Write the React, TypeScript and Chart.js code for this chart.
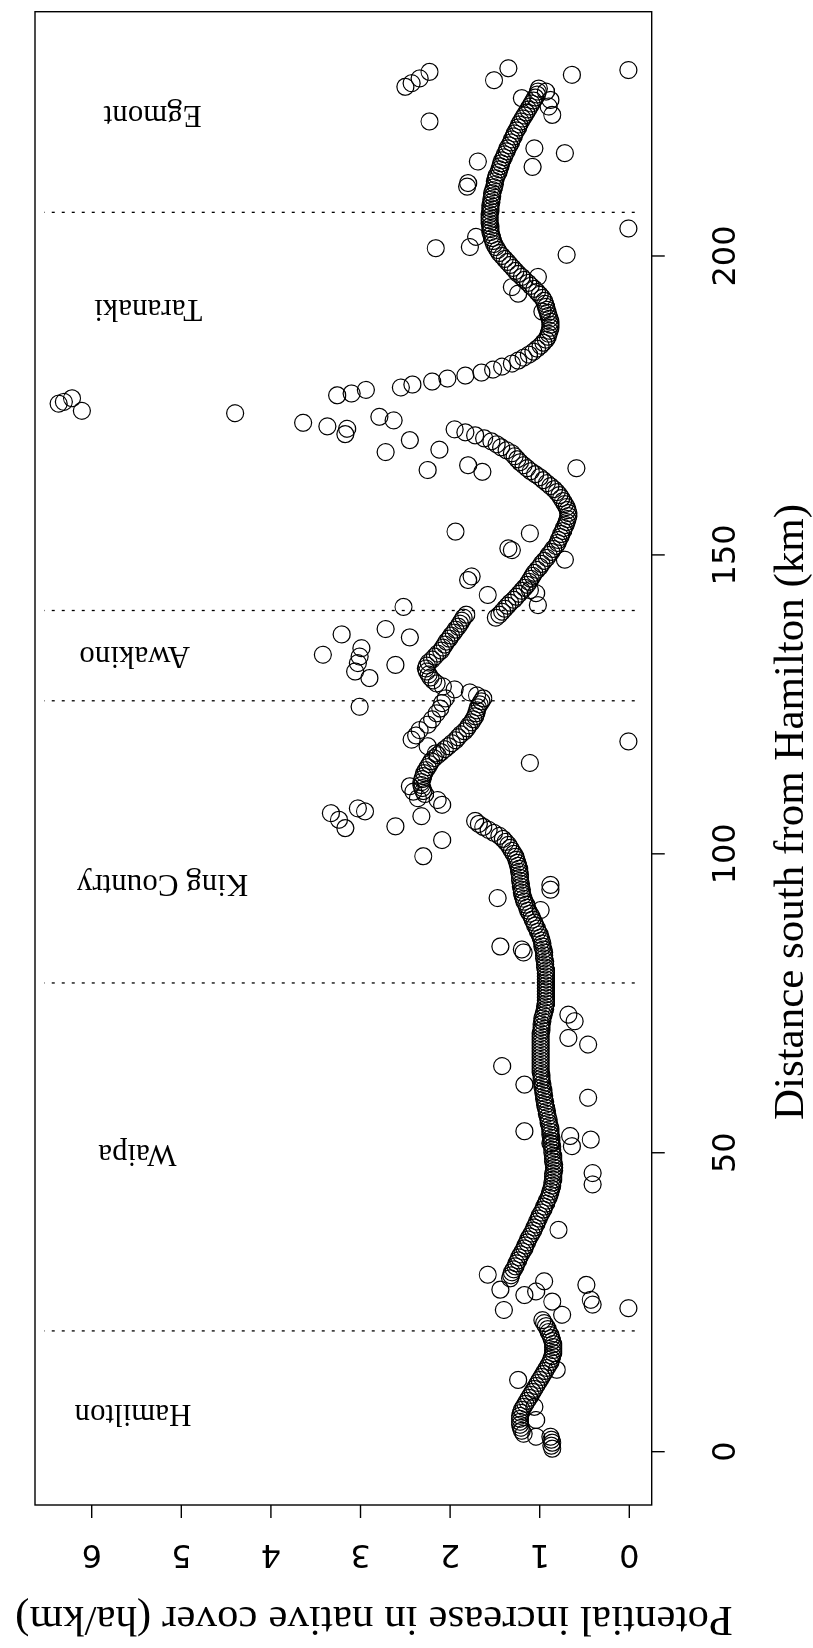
import React, { useEffect, useRef } from "react";
import { Chart, registerables } from "chart.js";

Chart.register(...registerables);

// ---- Axis ticks / ranges ----
const distanceTicks = [0, 50, 100, 150, 200];
const valueTicks = [0, 1, 2, 3, 4, 5, 6];
const distanceMin = -8.92;
const distanceMax = 240.86;
const valueMin = -0.25;
const valueMax = 6.633;

// ---- Region boundaries (km) and labels ----
const boundaryKm = [20.2, 78.4, 125.6, 140.7, 207.3];
const regionNames = ["Hamilton", "Waipa", "King Country", "Awakino", "Taranaki", "Egmont"];
const regionLabelKm = [6.4, 50.0, 95.1, 133.3, 191.2, 223.8];
const regionLabelValue = [5.54, 5.49, 5.21, 5.52, 5.37, 5.32];

// ---- Dense smoothed trace, 0.5 km apart within each run ----
const stepKm = 0.5;
const hamiltonStartKm = 0.5;
const hamiltonCurve = [0.86, 0.87, 0.86, 0.87, 0.88, 1.18, 1.2, 1.21, 1.22, 1.22, 1.22, 1.22, 1.21, 1.2, 1.18, 1.16, 1.14, 1.12, 1.1, 1.08, 1.06, 1.04, 1.02, 1.0, 0.98, 0.96, 0.94, 0.92, 0.9, 0.88, 0.87, 0.86, 0.85, 0.85, 0.85, 0.85, 0.86, 0.87, 0.88, 0.9, 0.91, 0.93, 0.95, 0.97];
const waipaStartKm = 29;
const waipaCurve = [1.33, 1.32, 1.31, 1.29, 1.27, 1.26, 1.24, 1.23, 1.21, 1.19, 1.17, 1.16, 1.14, 1.13, 1.11, 1.09, 1.07, 1.06, 1.04, 1.03, 1.01, 1.0, 0.98, 0.96, 0.95, 0.93, 0.92, 0.9, 0.89, 0.88, 0.87, 0.86, 0.86, 0.85, 0.85, 0.85, 0.84, 0.84, 0.84, 0.85, 0.85, 0.85, 0.86, 0.86, 0.86, 0.87, 0.87, 0.87, 0.88, 0.88, 0.88, 0.89, 0.9, 0.9, 0.91, 0.92, 0.92, 0.93, 0.94, 0.94, 0.95, 0.95, 0.96, 0.96, 0.97, 0.97, 0.98, 0.98, 0.98, 0.99, 0.99, 0.99, 0.99, 0.99, 0.99, 0.99, 0.99, 0.99, 0.99, 0.99, 0.99, 0.99, 0.99, 0.98, 0.98, 0.98, 0.97, 0.97, 0.96, 0.95, 0.94, 0.94, 0.93, 0.93, 0.93, 0.93, 0.93, 0.93, 0.93, 0.93];
const kingCountryStartKm = 79;
const kingCountryCurve = [0.93, 0.93, 0.93, 0.93, 0.94, 0.94, 0.94, 0.95, 0.95, 0.95, 0.96, 0.97, 0.97, 0.98, 0.99, 1.0, 1.02, 1.03, 1.05, 1.06, 1.08, 1.09, 1.11, 1.13, 1.14, 1.15, 1.17, 1.18, 1.19, 1.2, 1.2, 1.21, 1.21, 1.22, 1.22, 1.22, 1.23, 1.23, 1.24, 1.25, 1.26, 1.27, 1.29, 1.31, 1.33, 1.35, 1.38, 1.41, 1.45, 1.51, 1.57, 1.63, 1.68, 1.72];
const kingCountryUpperStartKm = 110;
const kingCountryUpperCurve = [2.28, 2.3, 2.31, 2.32, 2.32, 2.31, 2.3, 2.29, 2.27, 2.25, 2.23, 2.21, 2.18, 2.14, 2.1, 2.06, 2.02, 1.98, 1.94, 1.91, 1.88, 1.84, 1.81, 1.79, 1.76, 1.74, 1.72, 1.71, 1.7, 1.69, 1.67, 1.65, 1.63];
const awakinoStartKm = 126.5;
const awakinoCurve = [1.7, 1.78, 1.95, 2.08, 2.15, 2.19, 2.22, 2.24, 2.26, 2.27, 2.26, 2.24, 2.2, 2.17, 2.14, 2.1, 2.08, 2.06, 2.04, 2.01, 1.99, 1.96, 1.94, 1.91, 1.89, 1.87, 1.85, 1.82];
const taranakiStartKm = 139.5;
const taranakiCurve = [1.49, 1.45, 1.42, 1.39, 1.36, 1.33, 1.29, 1.26, 1.23, 1.2, 1.17, 1.14, 1.12, 1.1, 1.08, 1.06, 1.03, 1.0, 0.98, 0.95, 0.92, 0.9, 0.87, 0.85, 0.82, 0.8, 0.79, 0.77, 0.76, 0.74, 0.73, 0.71, 0.7, 0.69, 0.68, 0.68, 0.69, 0.7, 0.72, 0.74, 0.76, 0.78, 0.81, 0.84, 0.88, 0.92, 0.96, 1.0, 1.05, 1.1, 1.14, 1.18, 1.22, 1.25, 1.28, 1.31, 1.37, 1.43, 1.48, 1.54, 1.62, 1.72, 1.83, 1.95];
const taranakiSouthStartKm = 178;
const taranakiSouthCurve = [2.55, 2.42, 2.2, 2.03, 1.83, 1.65, 1.52, 1.42, 1.31, 1.24, 1.18, 1.12, 1.07, 1.03, 0.99, 0.96, 0.93, 0.91, 0.9, 0.89, 0.88, 0.88, 0.88, 0.89, 0.9, 0.91, 0.92, 0.93, 0.94, 0.95, 0.97, 1.0, 1.03, 1.06, 1.1, 1.13, 1.17, 1.2, 1.24, 1.27, 1.3, 1.33, 1.36, 1.39, 1.42, 1.45, 1.47, 1.49, 1.51, 1.52, 1.53, 1.54, 1.55, 1.55, 1.55, 1.56, 1.56, 1.56, 1.56];
const egmontStartKm = 207.5;
const egmontCurve = [1.55, 1.55, 1.55, 1.54, 1.54, 1.53, 1.53, 1.52, 1.51, 1.5, 1.5, 1.49, 1.48, 1.46, 1.45, 1.44, 1.43, 1.42, 1.4, 1.39, 1.37, 1.36, 1.34, 1.32, 1.31, 1.29, 1.28, 1.26, 1.24, 1.23, 1.21, 1.19, 1.17, 1.15, 1.13, 1.11, 1.09, 1.07, 1.05, 1.03, 1.02, 1.01];

// ---- Scattered individual points ----
const outlierKm = [
  2.5, 5.3, 7.5, 12.0, 13.7,
  22.9, 23.7, 24.0, 24.6, 25.1, 25.4, 26.2, 26.8, 27.1, 27.9, 28.5, 29.6,
  37.1, 44.7, 46.6, 51.1, 51.6, 52.2, 52.8, 53.6, 59.2, 61.4, 64.5, 68.1, 69.2, 72.0, 73.1,
  83.5, 84.0, 84.5, 90.6, 92.6, 94.0, 94.8, 99.6, 102.3, 104.3, 104.6, 105.7, 106.3, 106.8, 107.1, 107.6, 108.2, 109.0, 109.3, 110.4, 111.3,
  115.2, 118.8, 116.8, 118.0, 119.1, 119.8, 120.7, 121.6, 122.5, 123.5, 124.3, 125.2, 126.0, 124.6,
  129.4, 130.5, 131.9, 133.0, 134.4, 131.6, 133.3, 136.7, 136.2, 137.6, 141.3, 141.6, 143.3, 143.6, 144.1, 145.8, 146.4, 149.2, 150.8, 151.1, 153.6, 153.9,
  163.9, 164.2, 164.5, 165.0, 167.2, 167.6, 169.2, 170.2, 171.1, 171.5, 172.1, 172.5, 173.1, 173.7, 174.1, 175.3, 175.6, 176.2, 176.7, 177.0, 177.6,
  190.7, 193.7, 194.8, 196.5,
  200.2, 201.3, 201.5, 203.2, 204.6, 211.6, 212.2, 214.9, 215.8, 217.2, 218.0, 222.5, 223.6, 225.0, 226.1, 226.4, 227.5,
  228.3, 228.9, 229.4, 229.7, 230.3, 230.8, 231.1, 231.4,
];
const outlierValue = [
  1.04, 1.04, 1.06, 1.24, 0.81,
  0.75, 1.4, 0.01, 0.41, 0.86, 0.43, 1.17, 1.04, 1.44, 0.48, 0.95, 1.58,
  0.79, 0.41, 0.41, 0.64, 0.88, 0.43, 0.66, 1.17, 0.46, 1.17, 1.42, 0.46, 0.68, 0.61, 0.68,
  1.18, 1.2, 1.44, 0.99, 1.47, 0.88, 0.88, 2.3, 2.09, 3.17, 2.61, 3.24, 2.32, 3.33, 2.95, 3.03, 2.09, 2.14, 2.36, 2.41, 2.45,
  1.11, 0.01, 2.16, 2.25, 2.43, 2.38, 2.34, 2.25, 2.2, 2.15, 2.11, 2.09, 2.05, 3.01,
  2.9, 3.06, 3.03, 3.01, 2.99, 2.61, 3.42, 3.21, 2.45, 2.72, 2.52, 1.02, 1.58, 1.04, 1.11, 1.8, 1.76, 0.72, 1.31, 1.35, 1.11, 1.94,
  1.64, 2.25, 0.59, 1.8, 2.72, 2.12, 2.45, 3.17, 3.15, 3.37, 3.64, 2.63, 2.79, 4.4, 6.11, 6.37, 6.31, 6.22, 3.26, 3.1, 2.94,
  0.97, 1.24, 1.31, 1.02,
  0.7, 2.16, 1.78, 1.71, 0.01, 1.81, 1.8, 1.08, 1.69, 0.72, 1.06, 2.23, 0.86, 0.9, 0.88, 1.2, 0.93,
  2.5, 2.43, 1.51, 2.34, 0.64, 2.23, 0.01, 1.35,
];

// ---- Text ----
const distanceTitle = "Distance south from Hamilton (km)";
const valueTitle = "Potential increase in native cover (ha/km)";

const runs: [number, number[]][] = [
  [hamiltonStartKm, hamiltonCurve],
  [waipaStartKm, waipaCurve],
  [kingCountryStartKm, kingCountryCurve],
  [kingCountryUpperStartKm, kingCountryUpperCurve],
  [awakinoStartKm, awakinoCurve],
  [taranakiStartKm, taranakiCurve],
  [taranakiSouthStartKm, taranakiSouthCurve],
  [egmontStartKm, egmontCurve],
];

const W = 1648;
const H = 813;

const decorPlugin = {
  id: "decor",
  beforeDatasetsDraw(chart: any) {
    const { ctx, scales } = chart;
    const x = scales.x;
    const y = scales.y;
    ctx.save();
    ctx.strokeStyle = "#000";
    ctx.lineWidth = 1.3;
    ctx.setLineDash([3, 7]);
    boundaryKm.forEach((b) => {
      const px = x.getPixelForValue(b);
      ctx.beginPath();
      ctx.moveTo(px, y.getPixelForValue(-0.06));
      ctx.lineTo(px, y.getPixelForValue(6.53));
      ctx.stroke();
    });
    ctx.restore();
  },
  afterDraw(chart: any) {
    const { ctx, scales, chartArea } = chart;
    const x = scales.x;
    const y = scales.y;
    const { left, right, top, bottom } = chartArea;
    ctx.save();
    ctx.strokeStyle = "#000";
    ctx.fillStyle = "#000";
    ctx.lineWidth = 1.4;
    ctx.setLineDash([]);
    ctx.strokeRect(left, top, right - left, bottom - top);

    // distance axis (bottom in unrotated frame)
    ctx.font = '32px "DejaVu Sans"';
    ctx.textAlign = "center";
    ctx.textBaseline = "middle";
    distanceTicks.forEach((t) => {
      const px = x.getPixelForValue(t);
      ctx.beginPath();
      ctx.moveTo(px, bottom);
      ctx.lineTo(px, bottom + 13);
      ctx.stroke();
      ctx.fillText(String(t), px, bottom + 75);
    });

    // value axis (left in unrotated frame), labels parallel to axis
    valueTicks.forEach((t) => {
      const py = y.getPixelForValue(t);
      ctx.beginPath();
      ctx.moveTo(left, py);
      ctx.lineTo(left - 13, py);
      ctx.stroke();
      ctx.save();
      ctx.translate(left - 48, py);
      ctx.rotate(-Math.PI / 2);
      ctx.fillText(String(t), 0, 0);
      ctx.restore();
    });

    // axis titles
    ctx.font = '43px "Liberation Serif"';
    ctx.fillText(distanceTitle, 836, bottom + 140);
    ctx.save();
    ctx.translate(left - 113, 374);
    ctx.rotate(-Math.PI / 2);
    ctx.fillText(valueTitle, 0, 0);
    ctx.restore();

    // region labels
    ctx.font = '31px "Liberation Serif"';
    regionNames.forEach((name, i) => {
      ctx.save();
      ctx.translate(x.getPixelForValue(regionLabelKm[i]), y.getPixelForValue(regionLabelValue[i]));
      ctx.rotate(-Math.PI / 2);
      ctx.fillText(name, 0, 0);
      ctx.restore();
    });
    ctx.restore();
  },
};

export default function App() {
  const canvasRef = useRef<HTMLCanvasElement | null>(null);

  useEffect(() => {
    const canvas = canvasRef.current;
    if (!canvas) return;
    const curvePoints: { x: number; y: number }[] = [];
    runs.forEach(([start, vals]) => {
      vals.forEach((v, i) => curvePoints.push({ x: start + i * stepKm, y: v }));
    });
    const outlierPoints = outlierKm.map((k, i) => ({ x: k, y: outlierValue[i] }));

    const pointStyle = {
      pointRadius: 8.5,
      pointBorderWidth: 1.2,
      pointBorderColor: "#000",
      pointBackgroundColor: "rgba(0,0,0,0)",
      pointStyle: "circle" as const,
      showLine: false,
    };

    const chart = new Chart(canvas, {
      type: "scatter",
      data: {
        datasets: [
          { label: "trace", data: curvePoints, ...pointStyle },
          { label: "points", data: outlierPoints, ...pointStyle },
        ],
      },
      options: {
        animation: false,
        responsive: false,
        devicePixelRatio: 1,
        layout: { padding: { left: 143, right: 11.7, top: 35, bottom: 161.3 } },
        scales: {
          x: { type: "linear", min: distanceMin, max: distanceMax, display: false },
          y: { type: "linear", min: valueMin, max: valueMax, display: false },
        },
        plugins: {
          legend: { display: false },
          tooltip: { enabled: false },
        },
      },
      plugins: [decorPlugin],
    });
    return () => chart.destroy();
  }, []);

  return (
    <div
      style={{
        position: "absolute",
        left: 0,
        top: 0,
        width: 813,
        height: 1648,
        overflow: "hidden",
        background: "#fff",
      }}
    >
      <div
        style={{
          position: "absolute",
          left: 0,
          top: 0,
          width: W,
          height: H,
          transformOrigin: "0 0",
          transform: `translate(0px, ${W}px) rotate(-90deg)`,
        }}
      >
        <canvas ref={canvasRef} width={W} height={H} style={{ display: "block", width: W, height: H }} />
      </div>
    </div>
  );
}
